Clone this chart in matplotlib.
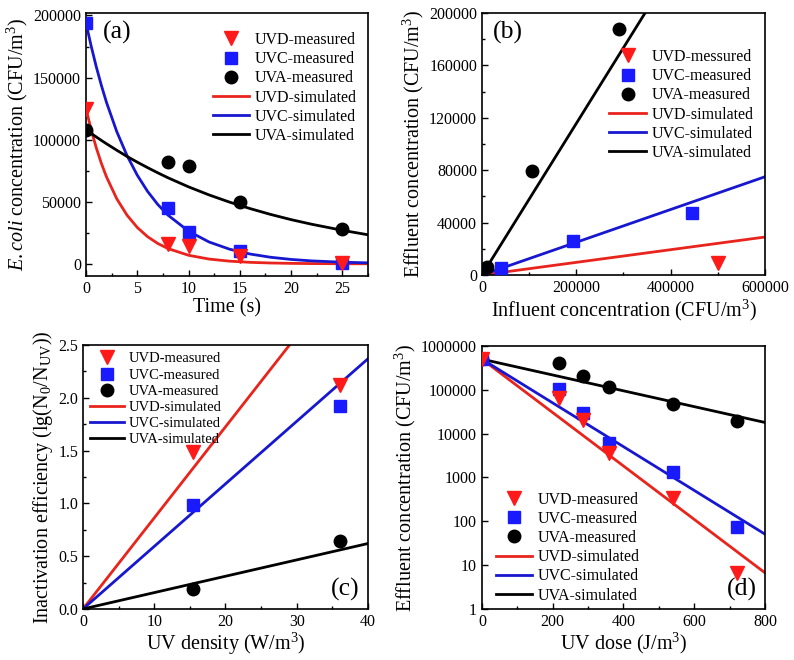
import numpy as np
import matplotlib
matplotlib.use("Agg")
import matplotlib.pyplot as plt
from matplotlib.ticker import MultipleLocator, FixedLocator, NullLocator

plt.rcParams['font.family'] = ['Liberation Serif', 'DejaVu Serif']
plt.rcParams['mathtext.fontset'] = 'custom'
plt.rcParams['mathtext.rm'] = 'Liberation Serif'
plt.rcParams['mathtext.it'] = 'Liberation Serif:italic'
plt.rcParams['xtick.direction'] = 'in'
plt.rcParams['ytick.direction'] = 'in'

RED = '#ff1a1a'
BLUE = '#1a1aff'
REDL = '#e8241c'
BLUEL = '#1717d0'

# ---- (a) concentration vs time
t_meas = [0, 8, 10, 15, 25]
a_uvd = [125000, 16000, 14000, 6000, 1000]
a_uvc = [194000, 45000, 26000, 10000, 600]
a_uva = [108000, 82000, 79000, 50000, 28000]
t_sim = [0, 0.5, 1, 1.5, 2, 3, 4, 5, 6, 7, 8, 10, 12, 14, 16, 18, 20, 22, 25, 27.5]
a_uvd_sim = [125000, 108100, 93500, 80900, 70000, 52400, 39200, 29300, 21900, 16400,
             12300, 6900, 3850, 2160, 1210, 680, 380, 210, 90, 40]
a_uvc_sim = [194000, 175500, 158800, 143700, 130000, 106500, 87200, 71400, 58400, 47800,
             39200, 26300, 17600, 11800, 7900, 5300, 3550, 2380, 1310, 790]
a_uva_sim = [108000, 105000, 102200, 99400, 96700, 91500, 86500, 81900, 77500, 73300,
             69300, 62000, 55500, 49700, 44500, 39800, 35600, 31900, 27000, 23400]

# ---- (b) effluent vs influent
b_uvd_x = [500000]
b_uvd_y = [9500]
b_uvc_x = [40000, 194000, 446000]
b_uvc_y = [5400, 26000, 47500]
b_uva_x = [11000, 107000, 290000]
b_uva_y = [6500, 79300, 187500]
b_sim_x = [0, 600000]
b_uvd_sim = [0, 29000]
b_uvc_sim = [0, 75000]
b_uva_sim = [0, 347000]

# ---- (c) inactivation efficiency vs UV density
c_x = [15.4, 36.1]
c_uvd = [1.49, 2.12]
c_uvc = [0.98, 1.92]
c_uva = [0.19, 0.64]
c_sim_x = [0, 40]
c_uvd_sim = [0, 3.45]
c_uvc_sim = [0, 2.37]
c_uva_sim = [0, 0.62]

# ---- (d) effluent vs UV dose
d_x = [0, 217, 286, 360, 540, 722]
d_uvd = [500000, 64000, 20500, 3600, 340, 6.6]
d_uvc = [500000, 103000, 29000, 6000, 1300, 74]
d_uva = [500000, 415000, 210000, 114000, 47500, 19000]
d_sim_x = [0, 800]
d_uvd_sim = [500000, 6.7]
d_uvc_sim = [500000, 51]
d_uva_sim = [500000, 18000]

labels_meas = ['UVD-measured', 'UVC-measured', 'UVA-measured']
labels_meas_b = ['UVD-messured', 'UVC-measured', 'UVA-measured']
labels_sim = ['UVD-simulated', 'UVC-simulated', 'UVA-simulated']

fig = plt.figure(figsize=(7.94, 6.6), dpi=100)
axa = fig.add_axes([0.1083, 0.5818, 0.3552, 0.3985])
axb = fig.add_axes([0.607, 0.5833, 0.3564, 0.397])
axc = fig.add_axes([0.1045, 0.0773, 0.359, 0.400])
axd = fig.add_axes([0.607, 0.0773, 0.3564, 0.3985])


def draw(ax, xm, ym_list, xs, ys_list, meas_labels):
    for (xx, yy), mk, c, lab, z in zip(zip(xm, ym_list), ['v', 's', 'o'], [RED, BLUE, 'black'],
                                       meas_labels, [5, 4, 3]):
        ax.plot(xx, yy, mk, color=c, ms=9 if mk != 'v' else 10, ls='none', label=lab, zorder=z)
    for yy, c, lab in zip(ys_list, [REDL, BLUEL, 'black'], labels_sim):
        ax.plot(xs, yy, '-', color=c, lw=2, label=lab, zorder=2)
    for sp in ax.spines.values():
        sp.set_linewidth(1.2)
    ax.tick_params(labelsize=11.5, width=1, length=4)
    ax.tick_params(which='minor', width=1, length=2.5)
    ax.tick_params(top=False, right=False)


leg_kw = dict(frameon=False, handlelength=2.3, handletextpad=0.35, labelspacing=0.2)

# (a)
draw(axa, [t_meas] * 3, [a_uvd, a_uvc, a_uva], t_sim, [a_uvd_sim, a_uvc_sim, a_uva_sim], labels_meas)
axa.set_xlim(0, 27.5)
axa.set_ylim(-9800, 202000)
axa.xaxis.set_major_locator(MultipleLocator(5))
axa.xaxis.set_minor_locator(MultipleLocator(2.5))
axa.yaxis.set_major_locator(MultipleLocator(50000))
axa.yaxis.set_minor_locator(MultipleLocator(25000))
axa.set_xlabel('Time (s)', fontsize=14.5, labelpad=1)
axa.set_ylabel(r'$\mathit{E.coli}$ concentration (CFU/m$^3$)', fontsize=14.5, labelpad=2)
axa.legend(loc='upper right', fontsize=11.5, borderaxespad=0.3,
           bbox_to_anchor=(1.0, 0.97), **leg_kw)
axa.text(0.06, 0.97, '(a)', transform=axa.transAxes, fontsize=18.5, va='top', ha='left')

# (b)
draw(axb, [b_uvd_x, b_uvc_x, b_uva_x], [b_uvd_y, b_uvc_y, b_uva_y], b_sim_x,
     [b_uvd_sim, b_uvc_sim, b_uva_sim], labels_meas_b)
axb.set_xlim(0, 600000)
axb.set_ylim(0, 200000)
axb.xaxis.set_major_locator(MultipleLocator(200000))
axb.xaxis.set_minor_locator(MultipleLocator(100000))
axb.yaxis.set_major_locator(MultipleLocator(40000))
axb.yaxis.set_minor_locator(MultipleLocator(20000))
axb.set_xlabel('Influent concentration (CFU/m$^3$)', fontsize=14.5, labelpad=1)
axb.set_ylabel('Effluent concentration (CFU/m$^3$)', fontsize=14.5, labelpad=2)
axb.legend(loc='upper right', fontsize=11.5, borderaxespad=0.3,
           bbox_to_anchor=(1.0, 0.905), **leg_kw)
axb.text(0.04, 0.97, '(b)', transform=axb.transAxes, fontsize=18.5, va='top', ha='left')

# (c)
draw(axc, [c_x] * 3, [c_uvd, c_uvc, c_uva], c_sim_x, [c_uvd_sim, c_uvc_sim, c_uva_sim], labels_meas)
axc.set_xlim(0, 40)
axc.set_ylim(0, 2.5)
axc.xaxis.set_major_locator(MultipleLocator(10))
axc.xaxis.set_minor_locator(MultipleLocator(5))
axc.yaxis.set_major_locator(MultipleLocator(0.5))
axc.yaxis.set_minor_locator(MultipleLocator(0.25))
axc.yaxis.set_major_formatter(matplotlib.ticker.FormatStrFormatter('%.1f'))
axc.set_xlabel('UV density (W/m$^3$)', fontsize=14.5, labelpad=1)
axc.set_ylabel('Inactivation efficiency (lg(N$_0$/N$_{\\mathrm{UV}}$))', fontsize=14.5, labelpad=2)
axc.legend(loc='upper left', fontsize=10.5, borderaxespad=0.1,
           bbox_to_anchor=(0.0, 1.0), **leg_kw)
axc.text(0.97, 0.03, '(c)', transform=axc.transAxes, fontsize=18.5, va='bottom', ha='right')

# (d)
draw(axd, [d_x] * 3, [d_uvd, d_uvc, d_uva], d_sim_x, [d_uvd_sim, d_uvc_sim, d_uva_sim], labels_meas)
axd.set_yscale('log')
axd.set_xlim(0, 800)
axd.set_ylim(1, 1000000)
axd.xaxis.set_major_locator(MultipleLocator(200))
axd.xaxis.set_minor_locator(MultipleLocator(100))
axd.yaxis.set_major_locator(FixedLocator([1, 10, 100, 1000, 10000, 100000, 1000000]))
axd.yaxis.set_minor_locator(NullLocator())
axd.yaxis.set_major_formatter(matplotlib.ticker.FuncFormatter(lambda v, p: '%d' % round(v)))
axd.set_xlabel('UV dose (J/m$^3$)', fontsize=14.5, labelpad=1)
axd.set_ylabel('Effluent concentration (CFU/m$^3$)', fontsize=14.5, labelpad=2)
axd.legend(loc='lower left', fontsize=11.5, borderaxespad=0.1,
           bbox_to_anchor=(0.02, -0.01), **leg_kw)
axd.text(0.97, 0.03, '(d)', transform=axd.transAxes, fontsize=18.5, va='bottom', ha='right')

fig.savefig('out.png', dpi=100)
